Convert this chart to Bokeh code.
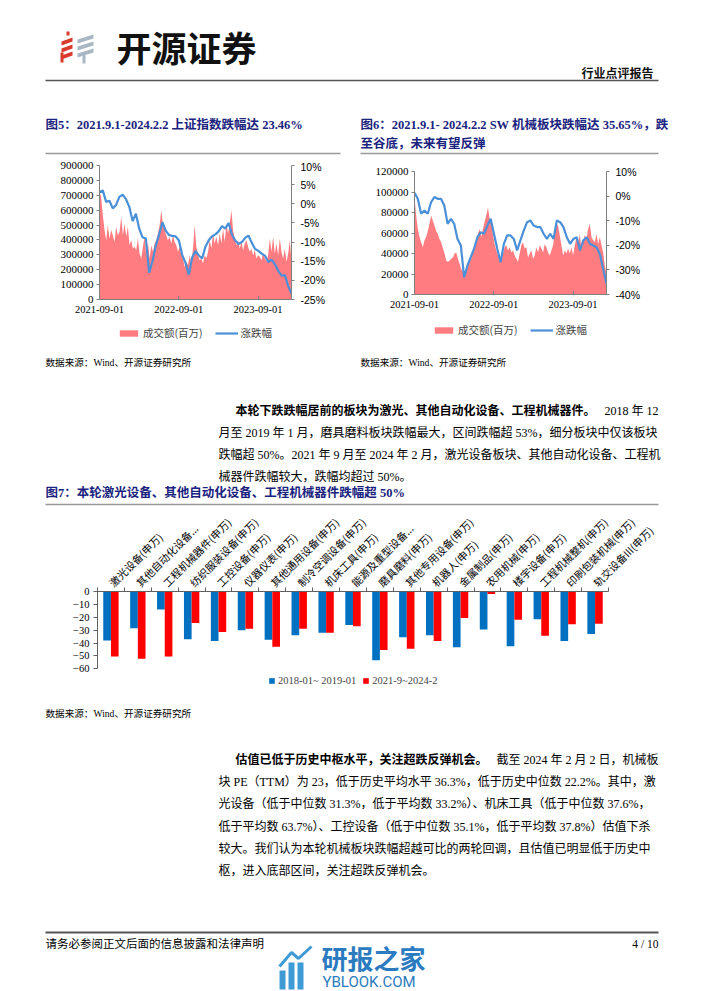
import numpy as np
import pandas as pd
from math import pi
from bokeh.plotting import figure
from bokeh.layouts import column, row
from bokeh.models import (Range1d, LinearAxis, FixedTicker, NumeralTickFormatter,
                          PrintfTickFormatter, DatetimeTickFormatter, Legend, LegendItem,
                          ColumnDataSource)
from bokeh.transform import dodge
from bokeh.core.properties import value
from bokeh.embed import file_html
from bokeh.resources import INLINE

# ---------------- data ----------------
period_start, period_end = "2021-09-01", "2024-02-02"
date_ticks = ["2021-09-01", "2022-09-01", "2023-09-01"]
legend_ts = ["成交额(百万)", "涨跌幅"]

# Fig 5: 上证指数 turnover (百万) and cumulative change (%)
sh_turnover = [720000, 690000, 566000, 466000, 398000, 499000, 410000, 466000, 432000, 387000,
               488000, 432000, 454000, 555000, 432000, 510000, 421000, 488000, 365000, 398000,
               343000, 354000, 331000, 410000, 309000, 275000, 354000, 421000, 298000, 387000,
               275000, 365000, 320000, 376000, 398000, 443000, 499000, 600000, 499000, 466000,
               432000, 398000, 421000, 376000, 432000, 387000, 365000, 320000, 354000, 298000,
               275000, 219000, 253000, 231000, 298000, 242000, 343000, 499000, 354000, 298000,
               264000, 275000, 242000, 298000, 275000, 320000, 398000, 343000, 443000, 376000,
               421000, 365000, 443000, 376000, 477000, 387000, 510000, 443000, 510000, 600000,
               466000, 410000, 365000, 398000, 343000, 387000, 331000, 376000, 398000, 354000,
               320000, 343000, 298000, 331000, 275000, 298000, 287000, 264000, 309000, 275000,
               253000, 298000, 410000, 320000, 421000, 309000, 376000, 298000, 410000, 320000,
               275000, 343000, 253000, 309000, 398000, 253000]
sh_change = [3.1, 3.5, 0.5, 0.8, -1.2, -0.3, 1.8, 2.4, 1.2, -0.8, -4.5, -2.6, -6.5, -8.8, -9.0,
             -18.0, -15.0, -11.0, -8.0, -4.8, -7.0, -8.2, -8.4, -8.5, -9.6, -13.4, -15.5, -18.5,
             -14.0, -12.3, -13.5, -14.3, -11.2, -9.5, -8.5, -8.0, -7.2, -5.8, -6.5, -5.0, -8.0,
             -9.6, -10.5, -10.0, -8.9, -8.3, -10.2, -11.8, -12.3, -13.0, -13.6, -15.2, -14.6,
             -15.8, -17.5, -18.8, -18.6, -21.5, -23.46]
sh_vol_ticks = [0, 100000, 200000, 300000, 400000, 500000, 600000, 700000, 800000, 900000]
sh_pct_ticks = [-25, -20, -15, -10, -5, 0, 5, 10]

# Fig 6: SW 机械 turnover (百万) and cumulative change (%)
sw_turnover = [95000, 77000, 64000, 56000, 51000, 46000, 53000, 56000, 62000, 69000, 77000, 72000,
               67000, 62000, 59000, 54000, 51000, 45000, 40000, 33000, 32000, 33000, 35000, 36000,
               40000, 41000, 35000, 30000, 25000, 22000, 19000, 25000, 28000, 32000, 35000, 41000,
               48000, 51000, 59000, 64000, 56000, 64000, 71000, 77000, 85000, 74000, 69000, 58000,
               49000, 43000, 38000, 35000, 33000, 40000, 46000, 48000, 43000, 46000, 41000, 43000,
               38000, 35000, 32000, 40000, 48000, 51000, 45000, 46000, 36000, 40000, 43000, 35000,
               38000, 46000, 41000, 48000, 45000, 41000, 49000, 46000, 41000, 38000, 43000, 48000,
               61000, 69000, 67000, 58000, 48000, 38000, 43000, 40000, 45000, 40000, 46000, 38000,
               48000, 56000, 49000, 59000, 45000, 51000, 58000, 54000, 64000, 69000, 56000, 53000,
               51000, 59000, 49000, 56000, 48000, 41000, 28000, 20000]
sw_change = [1.3, -1.1, -7.2, -5.9, -7.2, -2.5, -0.4, -1.1, -1.1, -3.8, -11.3, -9.2, -11.3, -17.4,
             -20.1, -33.0, -28.2, -24.8, -21.4, -16.7, -14.7, -15.3, -12.0, -9.2, -15.3, -21.4,
             -26.9, -19.4, -16.0, -16.0, -17.4, -22.1, -18.0, -14.0, -10.6, -9.9, -12.0, -12.6,
             -12.6, -15.3, -17.4, -15.3, -17.4, -9.9, -10.6, -12.6, -16.7, -19.4, -17.4, -16.7,
             -22.1, -18.0, -16.7, -19.4, -20.1, -20.8, -23.5, -29.6, -35.65]
sw_vol_ticks = [0, 20000, 40000, 60000, 80000, 100000, 120000]
sw_pct_ticks = [-40, -30, -20, -10, 0, 10]

# Fig 7: sub-sector drawdowns (%)
sectors = ["激光设备(申万)", "其他自动化设备...", "工程机械器件(申万)", "纺织服装设备(申万)",
           "工控设备(申万)", "仪器仪表(申万)", "其他通用设备(申万)", "制冷空调设备(申万)",
           "机床工具(申万)", "能源及重型设备...", "磨具磨料(申万)", "其他专用设备(申万)",
           "机器人(申万)", "金属制品(申万)", "农用机械(申万)", "楼宇设备(申万)",
           "工程机械整机(申万)", "印刷包装机械(申万)", "轨交设备III(申万)"]
chg_2018 = [-38, -28.5, -14, -37, -38.5, -30, -37.5, -34, -32, -26, -53.4, -35.5, -34, -43.3,
            -29.5, -42.5, -21.5, -38.5, -33]
chg_2021 = [-50.5, -52.3, -50.5, -24.5, -31.5, -29, -42.8, -29, -32, -27, -45.5, -44.5, -38.5,
            -20.5, -2, -22, -34.3, -25.5, -25]
series_names = ["2018-01~ 2019-01", "2021-9~2024-2"]
bar_ticks = [-60, -50, -40, -30, -20, -10, 0]

# ---------------- style ----------------
SERIF = "Liberation Serif, Noto Sans CJK SC"
CJK = "Noto Sans CJK SC"
NAVY = "#1A237E"
AREA = "#FF7C80"
LINE = "#4A90D9"
BLUE = "#0070C0"
RED = "#FF0000"
AXIS = "#808080"


def bare(w, h, xr, yr):
    p = figure(width=w, height=h, x_range=xr, y_range=yr,
               output_backend="svg", toolbar_location=None, min_border=0,
               x_axis_location=None, y_axis_location=None)
    p.frame_align = False
    p.xgrid.visible = False
    p.ygrid.visible = False
    p.outline_line_color = None
    return p


def page(h):
    return bare(702, h, Range1d(0, 702), Range1d(h, 0))


def txt(p, x, y, s, size, color="#000000", font=SERIF, bold=False, align="left"):
    p.text(x=[x], y=[y], text=[s], text_font=value(font), text_font_size=value(f"{size}px"),
           text_color=color, text_align=align, text_baseline="middle",
           text_font_style="bold" if bold else "normal")


def rule(p, x0, x1, y, color="#555555", w=1.5):
    p.segment(x0=[x0], y0=[y], x1=[x1], y1=[y], line_color=color, line_width=w)


def style_legend(lg, font, size, gw, gh, spacing):
    lg.label_text_font = font
    lg.label_text_font_size = size
    lg.label_height = 12
    lg.glyph_width = gw
    lg.glyph_height = gh
    lg.spacing = spacing
    lg.padding = 2
    lg.margin = 0
    lg.label_standoff = 3
    lg.border_line_alpha = 0
    lg.background_fill_alpha = 0


def ts_chart(width, height, left, right, top, bottom, turnover, change, vol_ticks, pct_ticks):
    tv_dates = pd.date_range(period_start, period_end, periods=len(turnover))
    ch_dates = pd.date_range(period_start, period_end, periods=len(change))
    p = figure(width=width, height=height, x_axis_type="datetime",
               x_range=Range1d(pd.Timestamp(period_start), pd.Timestamp(period_end)),
               y_range=Range1d(vol_ticks[0], vol_ticks[-1]),
               output_backend="svg", toolbar_location=None,
               min_border_left=left, min_border_right=right,
               min_border_top=top, min_border_bottom=bottom)
    p.frame_align = False
    p.extra_y_ranges = {"pct": Range1d(pct_ticks[0], pct_ticks[-1])}
    p.varea(x=tv_dates, y1=0, y2=turnover, fill_color=AREA)
    p.line(x=ch_dates, y=change, y_range_name="pct", line_color=LINE, line_width=2.2)
    p.xgrid.visible = False
    p.ygrid.visible = False
    p.outline_line_color = None

    xa = p.xaxis[0]
    xa.ticker = FixedTicker(ticks=[pd.Timestamp(d).value / 1e6 for d in date_ticks])
    xa.formatter = DatetimeTickFormatter(years="%Y-%m-%d", months="%Y-%m-%d", days="%Y-%m-%d")
    xa.major_tick_in = 3
    xa.major_tick_out = 0
    xa.minor_tick_out = 0
    xa.minor_tick_in = 0
    xa.axis_line_color = AXIS
    xa.major_tick_line_color = AXIS
    xa.major_label_text_font = "Liberation Serif"
    xa.major_label_text_font_size = "10.5px"
    xa.major_label_text_color = "#000000"
    xa.major_label_standoff = 6

    ya = p.yaxis[0]
    ya.ticker = FixedTicker(ticks=vol_ticks)
    ya.formatter = NumeralTickFormatter(format="0")
    ya.major_tick_out = 3
    ya.major_tick_in = 0
    ya.minor_tick_out = 0
    ya.axis_line_color = AXIS
    ya.major_tick_line_color = AXIS
    ya.major_label_text_font = "Liberation Serif"
    ya.major_label_text_font_size = "11px"
    ya.major_label_text_color = "#000000"
    ya.major_label_standoff = 3

    ra = LinearAxis(y_range_name="pct", ticker=FixedTicker(ticks=pct_ticks),
                    formatter=PrintfTickFormatter(format="%d%%"))
    ra.major_tick_out = 3
    ra.major_tick_in = 0
    ra.minor_tick_out = 0
    ra.axis_line_color = AXIS
    ra.major_tick_line_color = AXIS
    ra.major_label_text_font = "Liberation Sans"
    ra.major_label_text_font_size = "10.5px"
    ra.major_label_text_color = "#000000"
    ra.major_label_standoff = 6
    p.add_layout(ra, "right")
    return p


def ts_legend(width, height, loc):
    # legend strip below a chart; its key renderers hold a single degenerate point (nothing visible)
    lf = bare(width, height, Range1d(0, 1), Range1d(0, 1))
    a = lf.varea(x=[0], y1=[0], y2=[0], fill_color=AREA)
    b = lf.line(x=[0], y=[0], line_color=LINE, line_width=2.2)
    lg = Legend(items=[LegendItem(label=legend_ts[0], renderers=[a], index=0),
                       LegendItem(label=legend_ts[1], renderers=[b], index=0)],
                orientation="horizontal", location=loc)
    style_legend(lg, CJK, "10.5px", 23, 8, 12)
    lf.add_layout(lg, "center")
    return lf


# ---------------- header ----------------
top = page(160)
red_x = [[66, 69, 69, 66], [61, 72, 72, 61], [61, 72, 72, 61], [61, 72, 72, 61], [60, 63, 63, 60]]
red_y = [[31, 31, 35, 35], [41, 37, 41, 45], [48, 44, 48, 52], [55, 51, 55, 59], [52, 52, 62, 62]]
top.patches(xs=red_x, ys=red_y, fill_color="#D93A2B", line_color=None)
grey_x = [[77, 93, 93, 77], [77, 93, 93, 77], [77, 93, 93, 77], [82, 85, 85, 82]]
grey_y = [[39, 34, 38, 43], [46, 41, 45, 50], [53, 48, 52, 57], [54, 54, 63, 63]]
top.patches(xs=grey_x, ys=grey_y, fill_color="#A9B7C4", line_color=None)
txt(top, 116, 46, "开源证券", 35, color="#111111", font=CJK, bold=True)
txt(top, 653, 72, "行业点评报告", 12, color="#111111", font=CJK, bold=True, align="right")
rule(top, 45, 658, 80, color="#555555", w=1.6)
txt(top, 45, 124, "图5：2021.9.1-2024.2.2 上证指数跌幅达 23.46%", 12.5, color=NAVY, bold=True)
txt(top, 360, 124, "图6：2021.9.1- 2024.2.2 SW 机械板块跌幅达 35.65%，跌", 12.5, color=NAVY, bold=True)
txt(top, 360, 143, "至谷底，未来有望反弹", 12.5, color=NAVY, bold=True)
rule(top, 45, 340, 153, color="#999999", w=1.5)
rule(top, 360, 658, 153, color="#999999", w=1.5)

# ---------------- time series charts ----------------
f5 = ts_chart(351, 162, 99, 60, 5, 23, sh_turnover, sh_change, sh_vol_ticks, sh_pct_ticks)
l5 = ts_legend(351, 23, (115, 3))
f6 = ts_chart(351, 162, 63, 96, 11, 28, sw_turnover, sw_change, sw_vol_ticks, sw_pct_ticks)
l6 = ts_legend(351, 23, (79, 6))

# ---------------- middle text ----------------
mid = page(161)
txt(mid, 45, 17, "数据来源：Wind、开源证券研究所", 9.6)
txt(mid, 360, 17, "数据来源：Wind、开源证券研究所", 9.6)
txt(mid, 235, 65, "本轮下跌跌幅居前的板块为激光、其他自动化设备、工程机械器件。", 12, bold=True)
txt(mid, 658, 65, "2018 年 12", 12, align="right")
txt(mid, 218, 87, "月至 2019 年 1 月，磨具磨料板块跌幅最大，区间跌幅超 53%，细分板块中仅该板块", 12)
txt(mid, 218, 109, "跌幅超 50%。2021 年 9 月至 2024 年 2 月，激光设备板块、其他自动化设备、工程机", 12)
txt(mid, 218, 131, "械器件跌幅较大，跌幅均超过 50%。", 12)
txt(mid, 45, 147, "图7：本轮激光设备、其他自动化设备、工程机械器件跌幅超 50%", 12.5, color=NAVY, bold=True)
rule(mid, 45, 658, 159, color="#999999", w=1.5)

# ---------------- bar chart ----------------
# frame spans 78 px for the 60-point axis, then continues 32 px down to hold the legend
px_per_unit = 78 / 60.0
y_floor = bar_ticks[0] - 32 / px_per_unit
idx = np.arange(1, len(sectors) + 1)
src = ColumnDataSource(dict(x=idx, a=chg_2018, b=chg_2021))
f7 = figure(width=702, height=194, x_range=Range1d(0.5, len(sectors) + 0.5),
            y_range=Range1d(y_floor, bar_ticks[-1]), x_axis_location="above",
            output_backend="svg", toolbar_location=None,
            min_border_left=97, min_border_right=94, min_border_top=84, min_border_bottom=0)
f7.frame_align = False
rb = f7.vbar(x=dodge("x", -0.143), top="a", bottom=0, width=0.285,
             source=src, fill_color=BLUE, line_color=None)
rr = f7.vbar(x=dodge("x", 0.143), top="b", bottom=0, width=0.285,
             source=src, fill_color=RED, line_color=None)
f7.xgrid.visible = False
f7.ygrid.visible = False
f7.outline_line_color = None
xa = f7.xaxis[0]
xa.ticker = FixedTicker(ticks=[float(i) for i in idx],
                        minor_ticks=[float(i) - 0.5 for i in idx] + [len(sectors) + 0.5])
xa.major_label_overrides = {int(i): s for i, s in zip(idx, sectors)}
xa.major_label_orientation = pi / 4
xa.major_tick_out = 0
xa.major_tick_in = 0
xa.minor_tick_out = 4
xa.minor_tick_in = 0
xa.axis_line_color = "#606060"
xa.minor_tick_line_color = "#606060"
xa.major_label_text_font = CJK
xa.major_label_text_font_size = "10.5px"
xa.major_label_text_color = "#000000"
xa.major_label_standoff = 3
ya = f7.yaxis[0]
ya.ticker = FixedTicker(ticks=bar_ticks)
ya.bounds = (bar_ticks[0], bar_ticks[-1])
ya.major_tick_out = 4
ya.major_tick_in = 0
ya.minor_tick_out = 0
ya.axis_line_color = "#606060"
ya.major_tick_line_color = "#606060"
ya.major_label_text_font = "Liberation Serif"
ya.major_label_text_font_size = "10.5px"
ya.major_label_text_color = "#000000"
ya.major_label_standoff = 4
lg7 = Legend(items=[LegendItem(label=series_names[0], renderers=[rb]),
                    LegendItem(label=series_names[1], renderers=[rr])],
             orientation="horizontal", location=(169, 12))
style_legend(lg7, "Liberation Serif", "10.5px", 7, 7, 6)
f7.add_layout(lg7, "center")

# ---------------- bottom text ----------------
bot = page(291)
txt(bot, 45, 13, "数据来源：Wind、开源证券研究所", 9.6)
txt(bot, 235, 59, "估值已低于历史中枢水平，关注超跌反弹机会。", 12, bold=True)
txt(bot, 658, 59, "截至 2024 年 2 月 2 日，机械板", 12, align="right")
txt(bot, 218, 81, "块 PE（TTM）为 23，低于历史平均水平 36.3%，低于历史中位数 22.2%。其中，激", 12)
txt(bot, 218, 103, "光设备（低于中位数 31.3%，低于平均数 33.2%）、机床工具（低于中位数 37.6%，", 12)
txt(bot, 218, 126, "低于平均数 63.7%）、工控设备（低于中位数 35.1%，低于平均数 37.8%）估值下杀", 12)
txt(bot, 218, 148, "较大。我们认为本轮机械板块跌幅超越可比的两轮回调，且估值已明显低于历史中", 12)
txt(bot, 218, 170, "枢，进入底部区间，关注超跌反弹机会。", 12)
rule(bot, 45, 658, 232, color="#555555", w=2)
txt(bot, 45, 243, "请务必参阅正文后面的信息披露和法律声明", 11.5)
txt(bot, 658, 243, "4 / 10", 11.5, align="right")
icon_x = [[279, 285, 285, 279], [288, 294, 294, 288], [297, 303, 303, 297]]
icon_y = [[270, 270, 289, 289], [262, 262, 289, 289], [262, 262, 289, 289]]
bot.patches(xs=icon_x, ys=icon_y, fill_color="#3E9BD6", line_color=None)
bot.line(x=[279, 291, 298, 311], y=[266, 252, 258, 246], line_color="#3E9BD6", line_width=3)
txt(bot, 321, 257, "研报之家", 26, color="#2B7BC0", font=CJK, bold=True)
txt(bot, 322, 281, "YBLOOK.COM", 15, color="#2B7BC0", font="Roboto")

layout = column(top, row(column(f5, l5), column(f6, l6)), mid, f7, bot)
open("out.html", "w").write(file_html(layout, INLINE))
